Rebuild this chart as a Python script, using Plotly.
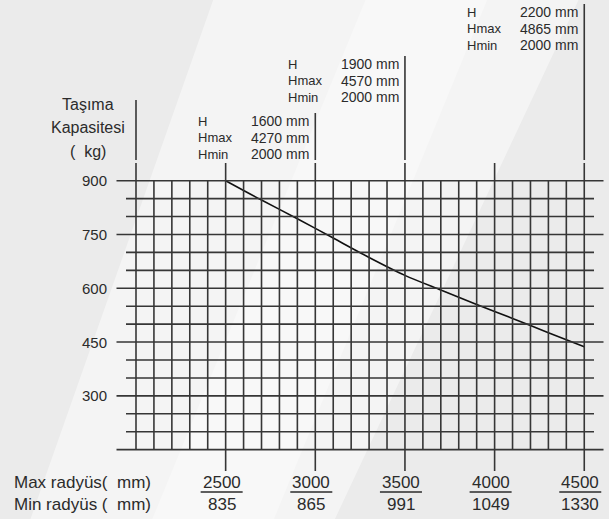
import plotly.graph_objects as go

# ---- data ----
max_radius = [2500, 3000, 3500, 4000, 4500]          # mm
min_radius = [835, 865, 991, 1049, 1330]             # mm
capacity_ticks = [900, 750, 600, 450, 300]           # kg
curve_radius = [2500, 2700, 2900, 3100, 3300, 3500, 3700, 3900, 4100, 4300, 4500]
curve_capacity = [900, 846, 794, 740, 686, 636, 595, 555, 516, 476, 437]
mast_radius = [3000, 3500, 4500]
mast_h = [1600, 1900, 2200]
mast_hmax = [4270, 4570, 4865]
mast_hmin = [2000, 2000, 2000]

grid_x_min, grid_x_max, grid_x_step = 2000, 4500, 100
grid_y_min, grid_y_max, grid_y_step = 150, 900, 50
major_caps = [150, 300, 450, 600, 750, 900]

W, H = 609, 519
XR = [1241.5, 4638.0]
YR = [-43.4, 1403.9]

def py2y(py):
    return YR[1] - py / H * (YR[1] - YR[0])

def px2x(px):
    return XR[0] + px / W * (XR[1] - XR[0])

FONT = "Liberation Sans, Arial, sans-serif"
TXT = "#2b2b2b"
GRID = "#363636"

fig = go.Figure()

shapes = []
# background soft light streaks
shapes.append(dict(type="path", xref="paper", yref="paper",
                   path="M 0.05 0 L 0.55 0 L 0.95 1 L 0.35 1 Z",
                   fillcolor="rgba(255,255,255,0.45)", line_width=0, layer="below"))
shapes.append(dict(type="path", xref="paper", yref="paper",
                   path="M 0.25 0 L 0.45 0 L 0.80 1 L 0.60 1 Z",
                   fillcolor="rgba(255,255,255,0.35)", line_width=0, layer="below"))

# vertical grid lines
r = grid_x_min
while r <= grid_x_max:
    y0 = grid_y_min
    if r in max_radius:
        y0 = py2y(471)
    if r in max_radius or r == grid_x_min:
        shapes.append(dict(type="line", xref="x", yref="y", x0=r, x1=r,
                           y0=grid_y_max, y1=py2y(163), line=dict(color=GRID, width=1.6)))
    shapes.append(dict(type="line", xref="x", yref="y", x0=r, x1=r, y0=y0, y1=grid_y_max,
                       line=dict(color=GRID, width=1.6)))
    r += grid_x_step

# horizontal grid lines
c = grid_y_min
while c <= grid_y_max:
    major = c in major_caps
    x0 = px2x(116.5) if major else px2x(126)
    x1 = px2x(603.5) if major else px2x(594)
    shapes.append(dict(type="line", xref="x", yref="y", x0=x0, x1=x1, y0=c, y1=c,
                       line=dict(color=GRID, width=1.6)))
    c += grid_y_step

annotations = []
# y tick labels
for cap in capacity_ticks:
    annotations.append(dict(x=grid_x_min, y=cap, xref="x", yref="y", text=str(cap),
                            xanchor="right", yanchor="middle", xshift=-27, showarrow=False,
                            font=dict(family=FONT, size=15, color=TXT)))

# y title with its separator line
title_rows = ["Taşıma", "Kapasitesi", "(\u00a0\u00a0kg)"]
title_py = [104, 127, 151]
for t, p in zip(title_rows, title_py):
    annotations.append(dict(x=px2x(88), y=py2y(p), xref="x", yref="y", text=t,
                            xanchor="center", yanchor="middle", showarrow=False,
                            font=dict(family=FONT, size=16, color=TXT)))
shapes.append(dict(type="line", xref="x", yref="y", x0=grid_x_min, x1=grid_x_min,
                   y0=py2y(160), y1=py2y(100), line=dict(color=GRID, width=1.6)))

# mast blocks
block_row1_py = [121, 64, 12]
for mr, h, hmax, hmin, p0 in zip(mast_radius, mast_h, mast_hmax, mast_hmin, block_row1_py):
    rows = [("H", h), ("Hmax", hmax), ("Hmin", hmin)]
    for i, (lab, val) in enumerate(rows):
        yy = py2y(p0 + i * 16.5)
        annotations.append(dict(x=mr, y=yy, xref="x", yref="y", text=lab,
                                xanchor="left", yanchor="middle", xshift=-119, showarrow=False,
                                font=dict(family=FONT, size=13, color=TXT)))
        annotations.append(dict(x=mr, y=yy, xref="x", yref="y", text=f"{val} mm",
                                xanchor="right", yanchor="middle", xshift=-4, showarrow=False,
                                font=dict(family=FONT, size=14, color=TXT)))
    shapes.append(dict(type="line", xref="x", yref="y", x0=mr, x1=mr,
                       y0=py2y(160), y1=py2y(p0 - 8), line=dict(color=GRID, width=1.6)))

# bottom labels
annotations.append(dict(x=px2x(12), y=py2y(482), xref="x", yref="y",
                        text="Max radyüs(\u00a0\u00a0mm)", xanchor="left", yanchor="middle",
                        showarrow=False, font=dict(family=FONT, size=17, color=TXT)))
annotations.append(dict(x=px2x(12), y=py2y(504), xref="x", yref="y",
                        text="Min radyüs (\u00a0\u00a0mm)", xanchor="left", yanchor="middle",
                        showarrow=False, font=dict(family=FONT, size=17, color=TXT)))
for mx, mn in zip(max_radius, min_radius):
    annotations.append(dict(x=mx, y=py2y(482), xref="x", yref="y", text=str(mx),
                            xanchor="center", yanchor="middle", xshift=-4, showarrow=False,
                            font=dict(family=FONT, size=17, color=TXT)))
    annotations.append(dict(x=mx, y=py2y(504), xref="x", yref="y", text=str(mn),
                            xanchor="center", yanchor="middle", xshift=-4, showarrow=False,
                            font=dict(family=FONT, size=17, color=TXT)))
    shapes.append(dict(type="line", xref="x", yref="y", xsizemode="pixel", xanchor=mx,
                       x0=-25, x1=17, y0=py2y(492), y1=py2y(492),
                       line=dict(color=TXT, width=1.3)))

# capacity curve
fig.add_trace(go.Scatter(x=curve_radius, y=curve_capacity, mode="lines",
                         line=dict(color="#111111", width=1.6, shape="spline", smoothing=0.8),
                         hoverinfo="skip", showlegend=False))

fig.update_layout(
    width=W, height=H,
    margin=dict(l=0, r=0, t=0, b=0),
    paper_bgcolor="#ebebeb",
    plot_bgcolor="rgba(0,0,0,0)",
    xaxis=dict(range=XR, visible=False, fixedrange=True),
    yaxis=dict(range=YR, visible=False, fixedrange=True),
    shapes=shapes,
    annotations=annotations,
    showlegend=False,
)

fig.write_html("out.html", config={"displayModeBar": False},
               post_script="document.body.style.margin='0';document.body.style.overflow='hidden';")
